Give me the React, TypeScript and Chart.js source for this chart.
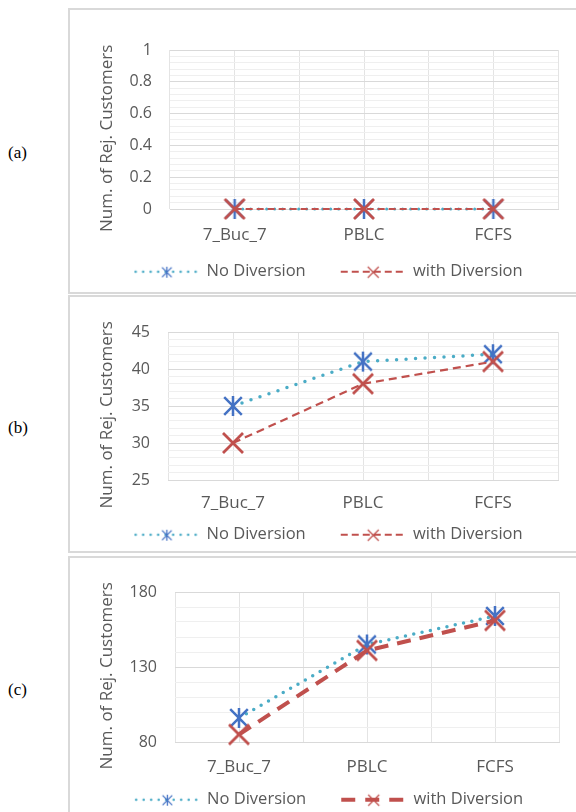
import React, { useEffect, useRef } from 'react';
import { Chart, registerables } from 'chart.js';

Chart.register(...registerables);

// ---------- data ----------
const categories = ['7_Buc_7', 'PBLC', 'FCFS'];
const seriesNames = ['No Diversion', 'with Diversion'];

const noDivA = [0, 0, 0];
const withDivA = [0, 0, 0];
const noDivB = [35, 41, 42];
const withDivB = [30, 38, 41];
const noDivC = [96, 145, 164];
const withDivC = [85, 141, 161];

const ticksA = [0, 0.2, 0.4, 0.6, 0.8, 1];
const ticksB = [25, 30, 35, 40, 45];
const ticksC = [80, 130, 180];
const minorA = 0.04;
const minorB = 1;
const minorC = 10;

const axisTitle = 'Num. of Rej. Customers';
const panelLabels = ['(a)', '(b)', '(c)'];

// ---------- styles ----------
const TEAL = '#4bacc6';
const BLUE = '#4472c4';
const RED = '#c0504d';
const TEXT = '#595959';
const FONT = 'Open Sans';
const LEGEND_GAP = 29;
const SAMPLE_W = 64;
// trailing non-breaking spaces nudge the rotated title a little below the plot's centre, as in the original
const TITLE_SHIFT = '\u00a0\u00a0\u00a0\u00a0';

function starCanvas(size: number, lw: number, color: string) {
  const pad = Math.ceil(lw) + 1;
  const d = size + pad * 2;
  const c = document.createElement('canvas');
  c.width = d;
  c.height = d;
  const g = c.getContext('2d')!;
  g.strokeStyle = color;
  g.lineWidth = lw;
  const m = d / 2;
  const r = size / 2;
  const rd = r * 0.88;
  g.beginPath();
  g.moveTo(m, m - r);
  g.lineTo(m, m + r);
  g.moveTo(m - rd, m - rd);
  g.lineTo(m + rd, m + rd);
  g.moveTo(m - rd, m + rd);
  g.lineTo(m + rd, m - rd);
  g.stroke();
  return c;
}

function crossCanvas(size: number, lw: number, color: string) {
  const pad = Math.ceil(lw) + 1;
  const d = size + pad * 2;
  const c = document.createElement('canvas');
  c.width = d;
  c.height = d;
  const g = c.getContext('2d')!;
  g.strokeStyle = color;
  g.lineWidth = lw;
  const m = d / 2;
  const r = size / 2;
  g.beginPath();
  g.moveTo(m - r, m - r);
  g.lineTo(m + r, m + r);
  g.moveTo(m - r, m + r);
  g.lineTo(m + r, m - r);
  g.stroke();
  return c;
}

type LineStyle = { color: string; width: number; dash: number[]; cap: CanvasLineCap };

// legend sample: transparent gap on the left, then a 64px line with the marker in its middle
function sampleCanvas(line: LineStyle, marker: HTMLCanvasElement) {
  const w = LEGEND_GAP + SAMPLE_W;
  const h = 16;
  const c = document.createElement('canvas');
  c.width = w;
  c.height = h;
  const g = c.getContext('2d')!;
  g.strokeStyle = line.color;
  g.lineWidth = line.width;
  g.lineCap = line.cap;
  g.setLineDash(line.dash);
  g.beginPath();
  const start = LEGEND_GAP + (line.cap === 'round' ? line.width / 2 : 0);
  g.moveTo(start, h / 2);
  g.lineTo(w, h / 2);
  g.stroke();
  g.setLineDash([]);
  g.drawImage(marker, Math.round(LEGEND_GAP + (SAMPLE_W - marker.width) / 2), Math.round((h - marker.height) / 2));
  return c;
}

type PanelSpec = {
  noDiv: number[];
  withDiv: number[];
  ticks: number[];
  minor: number;
  left: number;
  top: number;
  w: number;
  h: number;
  padTop: number;
  padRight: number;
  yWidth: number;
  titlePad: number;
  xHeight: number;
  xPad: number;
  noLine: LineStyle;
  withLine: LineStyle;
  legendWithLine: LineStyle;
};

const panels: PanelSpec[] = [
  {
    noDiv: noDivA, withDiv: withDivA, ticks: ticksA, minor: minorA,
    left: 70, top: 10, w: 506, h: 280,
    padTop: 40, padRight: 18, yWidth: 100, titlePad: 27, xHeight: 48.5, xPad: 16,
    noLine: { color: TEAL, width: 3, dash: [0, 8], cap: 'round' },
    withLine: { color: RED, width: 2, dash: [7, 4], cap: 'butt' },
    legendWithLine: { color: RED, width: 2, dash: [7, 4], cap: 'butt' },
  },
  {
    noDiv: noDivB, withDiv: withDivB, ticks: ticksB, minor: minorB,
    left: 70, top: 297, w: 506, h: 256,
    padTop: 35, padRight: 18, yWidth: 98, titlePad: 26.5, xHeight: 40.5, xPad: 13,
    noLine: { color: TEAL, width: 3.5, dash: [0, 9.5], cap: 'round' },
    withLine: { color: RED, width: 2.2, dash: [8, 5], cap: 'butt' },
    legendWithLine: { color: RED, width: 2, dash: [7, 4], cap: 'butt' },
  },
  {
    noDiv: noDivC, withDiv: withDivC, ticks: ticksC, minor: minorC,
    left: 70, top: 558, w: 506, h: 260,
    padTop: 34, padRight: 17, yWidth: 105, titlePad: 26.5, xHeight: 43.5, xPad: 14.5,
    noLine: { color: TEAL, width: 3.5, dash: [0, 8.5], cap: 'round' },
    withLine: { color: RED, width: 4, dash: [14, 9], cap: 'butt' },
    legendWithLine: { color: RED, width: 4, dash: [14, 10], cap: 'butt' },
  },
];

function buildConfig(p: PanelSpec): any {
  const isMajor = (v: number) => p.ticks.some((t) => Math.abs(t - v) < 1e-6);
  const star = starCanvas(20, 2.5, BLUE);
  const cross = crossCanvas(20, 2.8, RED);
  const legendNo = sampleCanvas({ ...p.noLine, width: 2.6, dash: [0, 7.5] }, starCanvas(11, 1.3, BLUE));
  const legendWith = sampleCanvas(p.legendWithLine, crossCanvas(11, 1.3, RED));
  const tickFont = { family: FONT, size: 16 };
  const catFont = { family: FONT, size: 17 };
  const legendFont = { family: FONT, size: 16.5 };
  return {
    type: 'line',
    data: {
      labels: categories,
      datasets: [
        {
          label: seriesNames[0],
          data: p.noDiv,
          borderColor: p.noLine.color,
          borderWidth: p.noLine.width,
          borderDash: p.noLine.dash,
          borderCapStyle: p.noLine.cap,
          pointStyle: star,
          pointRadius: 10,
          tension: 0,
          fill: false,
          clip: false,
          order: 1,
        },
        {
          label: seriesNames[1],
          data: p.withDiv,
          borderColor: p.withLine.color,
          borderWidth: p.withLine.width,
          borderDash: p.withLine.dash,
          borderCapStyle: p.withLine.cap,
          pointStyle: cross,
          pointRadius: 10,
          tension: 0,
          fill: false,
          clip: false,
          order: 0,
        },
      ],
    },
    options: {
      responsive: false,
      animation: false,
      devicePixelRatio: 1,
      events: [],
      layout: { padding: { left: 0, right: p.padRight, top: p.padTop, bottom: 0 } },
      scales: {
        x: {
          type: 'category',
          offset: true,
          grid: { offset: false, drawTicks: false, color: '#e4e4e4' },
          border: { display: true, color: '#d9d9d9' },
          ticks: { padding: p.xPad, color: TEXT, font: catFont, maxRotation: 0 },
          afterFit: (s: any) => { s.height = p.xHeight; },
        },
        x2: {
          type: 'category',
          position: 'bottom',
          offset: true,
          grid: { offset: true, drawTicks: false, color: '#e4e4e4' },
          border: { display: false },
          ticks: { display: false },
          afterFit: (s: any) => { s.height = 0; },
        },
        y: {
          type: 'linear',
          min: p.ticks[0],
          max: p.ticks[p.ticks.length - 1],
          ticks: {
            stepSize: p.minor,
            autoSkip: false,
            padding: 18,
            color: TEXT,
            font: tickFont,
            callback: (v: number) => {
              const m = p.ticks.find((t) => Math.abs(t - v) < 1e-6);
              return m === undefined ? '' : String(m);
            },
          },
          grid: {
            drawTicks: false,
            color: (ctx: any) => (ctx.tick && isMajor(ctx.tick.value) ? '#d9d9d9' : '#efefef'),
          },
          border: { display: false },
          title: {
            display: true,
            text: axisTitle + TITLE_SHIFT,
            color: TEXT,
            font: { family: FONT, size: 17 },
            padding: { top: p.titlePad, bottom: 0 },
          },
          afterFit: (s: any) => { s.width = p.yWidth; },
        },
      },
      plugins: {
        tooltip: { enabled: false },
        legend: {
          position: 'bottom',
          labels: {
            usePointStyle: true,
            pointStyleWidth: LEGEND_GAP + SAMPLE_W,
            padding: 6,
            color: TEXT,
            font: legendFont,
            generateLabels: () => [
              { text: seriesNames[0], pointStyle: legendNo, fillStyle: 'transparent', strokeStyle: 'transparent', lineWidth: 0, hidden: false, datasetIndex: 0, fontColor: TEXT },
              { text: seriesNames[1], pointStyle: legendWith, fillStyle: 'transparent', strokeStyle: 'transparent', lineWidth: 0, hidden: false, datasetIndex: 1, fontColor: TEXT },
            ],
          },
        },
      },
    },
  };
}

function ChartPanel({ spec }: { spec: PanelSpec }) {
  const ref = useRef<HTMLCanvasElement>(null);
  useEffect(() => {
    const chart = new Chart(ref.current as HTMLCanvasElement, buildConfig(spec));
    return () => chart.destroy();
  }, [spec]);
  return (
    <canvas
      ref={ref}
      width={spec.w}
      height={spec.h}
      style={{ position: 'absolute', left: spec.left, top: spec.top, width: spec.w, height: spec.h }}
    />
  );
}

const boxes = [
  { top: 8, height: 286 },
  { top: 295, height: 258 },
  { top: 556, height: 300 },
];
const labelTops = [144, 419, 681];

export default function App() {
  return (
    <div style={{ position: 'absolute', left: 0, top: 0, width: 576, height: 812, overflow: 'hidden', background: '#fff' }}>
      {boxes.map((b, i) => (
        <div
          key={'b' + i}
          style={{
            position: 'absolute',
            left: 68,
            top: b.top,
            width: 540,
            height: b.height,
            boxSizing: 'border-box',
            borderLeft: '2px solid #d9d9d9',
            borderTop: '2px solid #d9d9d9',
            borderBottom: '2px solid #d9d9d9',
          }}
        />
      ))}
      {panelLabels.map((t, i) => (
        <div
          key={'l' + i}
          style={{ position: 'absolute', left: 8, top: labelTops[i], fontFamily: '"Liberation Serif", "Times New Roman", serif', fontSize: 17, lineHeight: '18px', color: '#000' }}
        >
          {t}
        </div>
      ))}
      {panels.map((p, i) => (
        <ChartPanel key={'c' + i} spec={p} />
      ))}
    </div>
  );
}
